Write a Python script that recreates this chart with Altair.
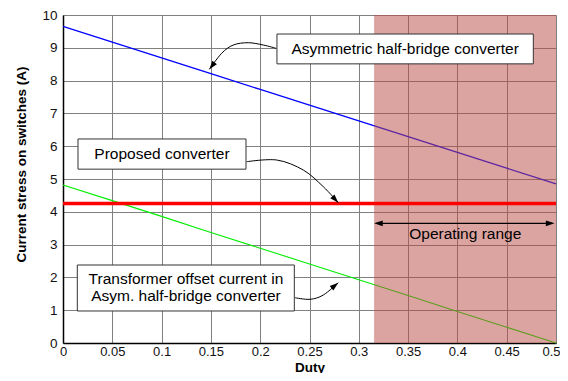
import altair as alt
import pandas as pd

# ---- data ----
duty = [0, 0.05, 0.1, 0.15, 0.2, 0.25, 0.3, 0.35, 0.4, 0.45, 0.5]
asym_stress = [9.65, 9.17, 8.69, 8.21, 7.73, 7.25, 6.77, 6.29, 5.81, 5.33, 4.85]
offset_current = [4.82, 4.34, 3.86, 3.37, 2.89, 2.41, 1.93, 1.45, 0.96, 0.48, 0.0]
proposed_stress = [4.25] * len(duty)

op_range = [0.3155, 0.5]

x_ticks = [0, 0.05, 0.1, 0.15, 0.2, 0.25, 0.3, 0.35, 0.4, 0.45, 0.5]
y_ticks = [0, 1, 2, 3, 4, 5, 6, 7, 8, 9, 10]

# annotation boxes (data coordinates)
box_x = [0.217, 0.0152, 0.0145]
box_x2 = [0.477, 0.1856, 0.2346]
box_y = [9.42, 6.22, 2.378]
box_y2 = [8.51, 5.30, 0.976]

label_text = ["Asymmetric half-bridge converter", "Proposed converter",
              "Transformer offset current in", "Asym. half-bridge converter",
              "Operating range"]
label_x = [0.347, 0.1004, 0.1247, 0.1247, 0.408]
label_y = [8.96, 5.76, 1.95, 1.43, 3.33]

# curved arrows
arrow_id = [1] * 6 + [2] * 5 + [3] * 4
arrow_order = list(range(6)) + list(range(5)) + list(range(4))
arrow_px = [0.2160, 0.2031, 0.1879, 0.1727, 0.1609, 0.1484,
            0.1863, 0.2168, 0.2437, 0.2640, 0.2792,
            0.2353, 0.2505, 0.2640, 0.2792]
arrow_py = [8.985, 9.085, 9.155, 9.085, 8.832, 8.345,
            5.527, 5.579, 5.274, 4.765, 4.278,
            1.381, 1.332, 1.463, 1.838]

head_x = [0.1484, 0.2792, 0.2792, 0.3155, 0.4985]
head_y = [8.345, 4.278, 1.838, 3.65, 3.65]
head_angle = [218, 137, 51, 270, 90]

range_y = 3.65

# ---- frames ----
lines = pd.DataFrame({"x": duty * 3,
                      "y": asym_stress + offset_current + proposed_stress,
                      "series": ["asym"] * 11 + ["offset"] * 11 + ["proposed"] * 11})
boxes = pd.DataFrame({"x": box_x, "x2": box_x2, "y": box_y, "y2": box_y2})
labels = pd.DataFrame({"x": label_x, "y": label_y, "t": label_text})
arrows = pd.DataFrame({"id": arrow_id, "o": arrow_order, "x": arrow_px, "y": arrow_py})
heads = pd.DataFrame({"x": head_x, "y": head_y, "a": head_angle})
shade = pd.DataFrame({"x": [op_range[0]], "x2": [op_range[1]]})
rng = pd.DataFrame({"x": [op_range[0] + 0.003], "x2": [op_range[1] - 0.004], "y": [range_y]})

FONT = "Liberation Sans"

xs = alt.Scale(domain=[0, 0.5], nice=False, zero=False)
ys = alt.Scale(domain=[0, 10], nice=False)

xax = alt.Axis(values=x_ticks, format=".2~f", title="Duty", grid=True, ticks=False,
               labelOverlap=False, labelFlush=False,
               labelAlign=alt.condition("datum.value >= 0.5", alt.value("right"), alt.value("center")),
               labelOffset=alt.condition("datum.value >= 0.5", alt.value(4), alt.value(0)),
               labelPadding=2, labelFontSize=13, labelFont=FONT, labelColor="#111",
               titleFont=FONT, titleFontSize=13.5, titleFontWeight="bold", titleColor="#000",
               titleY=24, titleBaseline="middle",
               domainColor="#000", domainWidth=1.5, gridColor="#808080", gridWidth=1)
yax = alt.Axis(values=y_ticks, format="d", title="Current stress on switches (A)", grid=True,
               ticks=False, labelOverlap=False, labelFlush=False,
               labelPadding=6, labelFontSize=13.5, labelFont=FONT, labelColor="#111",
               titleFont=FONT, titleFontSize=13.5, titleFontWeight="bold", titleColor="#000",
               titleX=-42, titleY=149, titleBaseline="middle", titleAlign="center", titleAngle=-90,
               domainColor="#000", domainWidth=1.5, gridColor="#808080", gridWidth=1)


def X(f="x"):
    return alt.X(f"{f}:Q", scale=xs, axis=xax)


def Y(f="y"):
    return alt.Y(f"{f}:Q", scale=ys, axis=yax)


blue = alt.Chart(lines).transform_filter(alt.datum.series == "asym").mark_line(
    color="#0000ff", strokeWidth=1.3).encode(x=X(), y=Y())
green = alt.Chart(lines).transform_filter(alt.datum.series == "offset").mark_line(
    color="#00ee00", strokeWidth=1.1).encode(x=X(), y=Y())
red = alt.Chart(lines).transform_filter(alt.datum.series == "proposed").mark_line(
    color="#ff0000", strokeWidth=3.5).encode(x=X(), y=Y())

shade_m = alt.Chart(shade).mark_rect(color="#b94941", opacity=0.5).encode(
    x=X(), x2="x2:Q", y=alt.value(0), y2=alt.value(328))

box_m = alt.Chart(boxes).mark_rect(fill="white", stroke="#333", strokeWidth=1).encode(
    x=X(), x2="x2:Q", y=Y(), y2="y2:Q")

text_m = alt.Chart(labels).mark_text(font=FONT, fontSize=15.5, color="#000",
                                     align="center", baseline="middle").encode(
    x=X(), y=Y(), text="t:N")

arrow_m = alt.Chart(arrows).mark_line(color="#000", strokeWidth=1, interpolate="cardinal").encode(
    x=X(), y=Y(), detail="id:N", order="o:Q")

range_m = alt.Chart(rng).mark_rule(color="#000", strokeWidth=1.2).encode(
    x=X(), x2="x2:Q", y=Y())

head_m = alt.Chart(heads).mark_point(shape="M0,0L-0.33,1L0.33,1Z", size=300, filled=True,
                                     color="#000", opacity=1).encode(
    x=X(), y=Y(), angle=alt.Angle("a:Q", scale=None))

chart = alt.layer(blue, green, shade_m, red, box_m, text_m, arrow_m, range_m, head_m).properties(
    width=493, height=328,
    autosize=alt.AutoSizeParams(type="none"),
    padding={"left": 55, "top": 7, "right": 4, "bottom": 30},
).configure_view(stroke="#000", strokeWidth=1).configure(background="white")

chart.save("out.html", embed_options={"renderer": "svg", "actions": False})
